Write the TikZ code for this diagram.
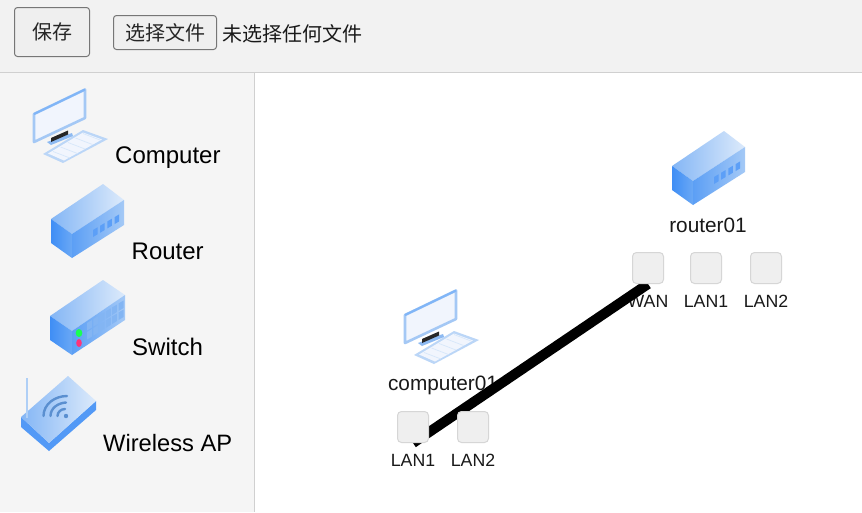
\documentclass[tikz,border=0pt]{standalone}
\usepackage{fontspec}
\setmainfont{Liberation Sans}
\newfontfamily\cjk{Noto Sans CJK SC}
\pgfdeclarelayer{under}
\pgfdeclarelayer{wire}
\pgfsetlayers{under,wire,main}
\definecolor{barbg}{HTML}{F2F2F2}
\definecolor{sidebg}{HTML}{F5F5F5}
\definecolor{rule}{HTML}{D0D0D0}
\definecolor{btnfill}{HTML}{EFEFEF}
\definecolor{btnline}{HTML}{767676}
\definecolor{portline}{HTML}{D6D6D6}
\definecolor{deep}{HTML}{3F8EF5}
\definecolor{mid}{HTML}{6AA8F5}
\definecolor{pale}{HTML}{DCEAFB}
\definecolor{edge}{HTML}{8DBAF2}
\definecolor{topl}{HTML}{84B6F5}
\definecolor{fr1}{HTML}{5C9FF5}
\definecolor{fr2}{HTML}{A4C9F6}
\definecolor{screen}{HTML}{F1F5FD}
\tikzset{
  btn/.style={draw=btnline,fill=btnfill,rounded corners=3pt,line width=1pt,inner sep=0pt,font=\fontsize{20}{20}\selectfont\cjk,text=black!85},
  portbox/.style={draw=portline,fill=btnfill,rounded corners=4pt,line width=1pt,minimum width=31pt,minimum height=31pt,inner sep=0pt},
  portlabel/.style={font=\fontsize{17.7}{18}\selectfont,text=black!90,inner sep=0pt},
  iconlabel/.style={font=\fontsize{20.8}{21}\selectfont,text=black!90,inner sep=0pt},
  palabel/.style={font=\fontsize{24}{24}\selectfont,text=black,inner sep=0pt,anchor=base west},
  wirestyle/.style={line width=10pt,draw=black},
  ftop/.style={left color=topl,right color=pale,shading angle=90},
  fright/.style={left color=fr1,right color=fr2},
  fleft/.style={left color=deep,right color=mid},
}
\newcommand{\computericon}[2]{%
\begin{scope}[shift={(#1,#2)}]
  \fill[edge!60] (43,154)--(83,130)--(108,139)--(63,163)--cycle;
  \fill[screen] (48,153.5)--(83,132.5)--(102,139.5)--(64,160.5)--cycle;
  \foreach \k in {0,1,2,3,4}{\draw[edge!35,line width=.7pt] ({53+7.5*\k},{151.5-4.5*\k})--({70+7.5*\k},{158-4.5*\k});}
  \fill[edge] (47,142)--(72,133)--(73,136)--(51,145)--cycle;
  \fill[black!85] (51,138)--(68,130.5)--(68,134.5)--(51,142)--cycle;
  \fill[fill=screen,draw=edge!80,line width=2.6pt,line join=round] (85,89.5)--(34,114)--(34,142)--(85,118)--cycle;
  \draw[mid!85,line width=2pt] (34,114)--(85,89.5);
\end{scope}}
\newcommand{\routericon}[2]{%
\begin{scope}[shift={(#1,#2)}]
  \shade[ftop] (51,219)--(103,184)--(124,200)--(72,234)--cycle;
  \shade[fleft] (51,219)--(72,234)--(72,258)--(51,243)--cycle;
  \shade[fright] (72,234)--(124,200)--(124,225)--(72,258)--cycle;
  \foreach \k in {0,1,2,3}{\fill[deep!85!white] ({93+7.2*\k},{230-4.3*\k})--({97.5+7.2*\k},{227.3-4.3*\k})--({97.5+7.2*\k},{234.3-4.3*\k})--({93+7.2*\k},{237-4.3*\k})--cycle;}
\end{scope}}
\begin{document}
\begin{tikzpicture}[x=1pt,y=-1pt]
\useasboundingbox (0,0) rectangle (862,512);
\begin{pgfonlayer}{under}
\fill[white] (0,0) rectangle (862,512);
\fill[barbg] (0,0) rectangle (862,72);
\fill[sidebg] (0,73) rectangle (254,512);
\draw[rule,line width=1pt] (0,72.5)--(862,72.5);
\draw[rule,line width=1pt] (254.5,73)--(254.5,512);
\end{pgfonlayer}
% toolbar
\node[btn,minimum width=75pt,minimum height=49pt] (save) at (52,32) {\raisebox{-1pt}{保存}};
\node[btn,minimum width=103pt,minimum height=34pt] (choose) at (165,32.5) {\raisebox{-1pt}{选择文件}};
\node[inner sep=0pt,anchor=west,font=\fontsize{20}{20}\selectfont\cjk,text=black!90] (nofile) at (222,34) {未选择任何文件};
% palette
\computericon{0}{0}
\node[palabel] (pc) at (115,163) {Computer};
\routericon{0}{0}
\node[palabel] (pr) at (131.5,259) {Router};
% switch
\shade[ftop] (50,316)--(103,280)--(125,295)--(72,331)--cycle;
\shade[fleft] (50,316)--(72,331)--(72,355)--(50,340)--cycle;
\shade[fright] (72,331)--(125,295)--(125,320)--(72,355)--cycle;
\foreach \c in {0,...,5}{\foreach \r in {0,1}{
  \fill[edge!70!mid] ({87+6.3*\c},{323-3.9*\c+9*\r})--({92+6.3*\c},{320-3.9*\c+9*\r})--({92+6.3*\c},{327.5-3.9*\c+9*\r})--({87+6.3*\c},{330.5-3.9*\c+9*\r})--cycle;}}
\fill[green!75!cyan!90!white] (79,333) ellipse (3.3 and 4);
\fill[red!65!magenta!80!white] (79,343) ellipse (2.8 and 4);
\node[palabel] (ps) at (132,355) {Switch};
% wireless AP
\fill[deep!90!white] (21,417)--(49,443)--(96,401)--(96,410)--(49,451)--(21,427)--cycle;
\shade[ftop] (21,417)--(68,376)--(96,401)--(49,443)--cycle;
\draw[edge!70!white,line width=2.6pt] (27,378)--(27,418);
\draw[mid!85!black,line width=2.4pt,line cap=round] (43.5,416) .. controls (43.5,404) and (55,396) .. (67,396);
\draw[mid!85!black,line width=2.4pt,line cap=round] (50.5,416) .. controls (50.5,408) and (58,403) .. (66,402.5);
\draw[mid!85!black,line width=2.4pt,line cap=round] (57.5,416) .. controls (57.5,412) and (61,409) .. (65,409);
\fill[mid!85!black] (66,416) circle (2.2);
\node[palabel,font=\fontsize{23.7}{24}\selectfont] (pa) at (103,451) {Wireless AP};
% canvas devices
\routericon{621}{-53}
\node[iconlabel] (r01) at (708,225) {router01};
\computericon{371}{201}
\begin{pgfonlayer}{under}
\node[iconlabel] (c01) at (443,385) {computer01};
\node[portlabel] (wanl) at (648,301) {WAN};
\node[portlabel] (lan1rl) at (706,301) {LAN1};
\node[portlabel] (lan2rl) at (766,301) {LAN2};
\node[portlabel] (lan1cl) at (413,460) {LAN1};
\node[portlabel] (lan2cl) at (473,460) {LAN2};
\end{pgfonlayer}
\node[portbox] (wan) at (648,268) {};
\node[portbox] (lan1r) at (706,268) {};
\node[portbox] (lan2r) at (766,268) {};
\node[portbox] (lan1c) at (413,427) {};
\node[portbox] (lan2c) at (473,427) {};
\begin{pgfonlayer}{wire}
\draw[wirestyle] (lan1c.south) -- (wan.south);
\end{pgfonlayer}
\end{tikzpicture}
\end{document}
